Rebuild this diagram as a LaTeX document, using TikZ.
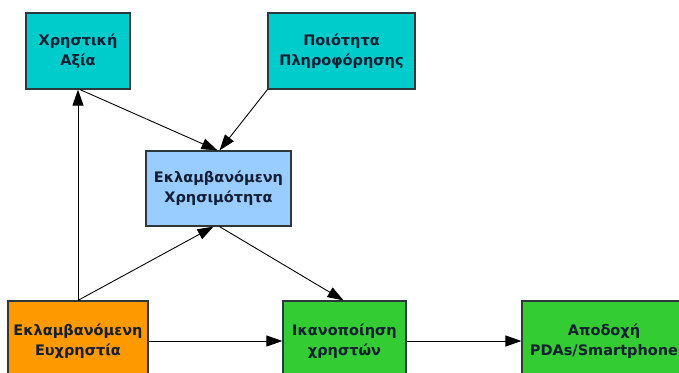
\documentclass[tikz,border=0pt]{standalone}
\usepackage{fontspec}
\setmainfont{DejaVu Sans}
\usetikzlibrary{arrows.meta,calc}
\definecolor{cyanbox}{RGB}{0,204,204}
\definecolor{bluebox}{RGB}{153,204,255}
\definecolor{orangebox}{RGB}{255,153,0}
\definecolor{greenbox}{RGB}{51,204,51}
\definecolor{edgecol}{RGB}{45,55,60}
\definecolor{textcol}{RGB}{20,30,50}
\tikzset{
  box/.style={draw=edgecol, line width=1.2pt, align=center, inner sep=0pt,
    font=\bfseries\fontsize{14.5}{20}\selectfont, text=textcol},
  conn/.style={draw=black, line width=0.9pt, -{Triangle[length=16pt,width=11pt]}}
}
\begin{document}
\begin{tikzpicture}[x=1pt,y=1pt]
\useasboundingbox (0,0) rectangle (679,372);
\begin{scope}
\clip (0,0) rectangle (679,372);
\node[box, fill=cyanbox, minimum width=104pt, minimum height=76pt] (A) at (78,321) {Χρηστική\\Αξία};
\node[box, fill=cyanbox, minimum width=147pt, minimum height=76pt] (Q) at (341.5,321) {Ποιότητα\\Πληροφόρησης};
\node[box, fill=bluebox, minimum width=145pt, minimum height=75pt] (U) at (218.5,183.5) {Εκλαμβανόμενη\\Χρησιμότητα};
\node[box, fill=orangebox, minimum width=140pt, minimum height=80pt] (E) at (78,31) {Εκλαμβανόμενη\\Ευχρηστία};
\node[box, fill=greenbox, minimum width=123pt, minimum height=80pt] (S) at (344.5,31) {Ικανοποίηση\\χρηστών};
\node[box, fill=greenbox, minimum width=164pt, minimum height=80pt] (P) at (604,31) {Αποδοχή\\PDAs/Smartphone};
\coordinate (Etop) at (E.north);
\draw[conn] (Etop) -- (A.south);
\draw[conn] (Etop) -- ($(U.south)+(-5,0)$);
\draw[conn] ($(A.south)+(2,0)$) -- ($(U.north)+(-1,0)$);
\draw[conn] (Q.south west) -- ($(U.north)+(1,0)$);
\draw[conn] ($(U.south)+(1,0)$) -- ($(S.north)+(-1,0)$);
\draw[conn] (E.east) -- (S.west);
\draw[conn] (S.east) -- (P.west);
\end{scope}
\end{tikzpicture}
\end{document}
